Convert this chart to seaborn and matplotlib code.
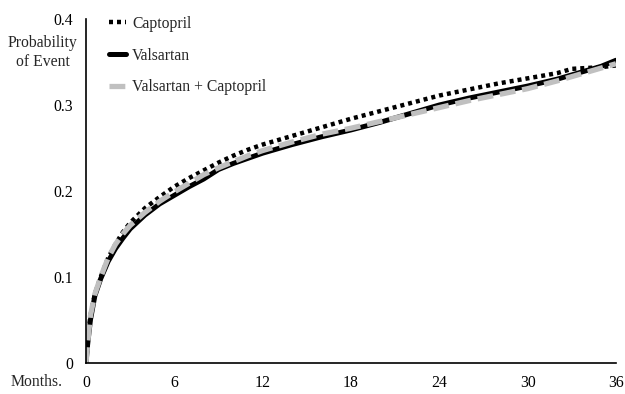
import matplotlib
matplotlib.use("Agg")
import matplotlib.pyplot as plt
import seaborn as sns
import pandas as pd

months = [0, 0.1, 0.3, 0.6, 1, 1.5, 2, 2.5, 3, 4, 5, 6, 7, 8, 9, 10, 11, 12,
          14, 16, 18, 20, 22, 24, 26, 28, 30, 32, 33, 34, 35, 36]
captopril = [0, 0.02, 0.055, 0.08, 0.1, 0.122, 0.138, 0.152, 0.163, 0.18, 0.193,
             0.205, 0.215, 0.224, 0.233, 0.241, 0.248, 0.254, 0.264, 0.274, 0.284,
             0.293, 0.302, 0.311, 0.318, 0.325, 0.331, 0.337, 0.342, 0.343, 0.344, 0.346]
valsartan = [0, 0.02, 0.05, 0.078, 0.098, 0.118, 0.133, 0.145, 0.156, 0.172, 0.185,
             0.195, 0.205, 0.214, 0.225, 0.232, 0.238, 0.244, 0.254, 0.263, 0.271,
             0.28, 0.29, 0.3, 0.308, 0.315, 0.322, 0.330, 0.335, 0.340, 0.345, 0.352]
combined = [0, 0.02, 0.055, 0.08, 0.1, 0.122, 0.138, 0.15, 0.16, 0.175, 0.188,
            0.199, 0.209, 0.219, 0.227, 0.234, 0.241, 0.247, 0.257, 0.266, 0.273,
            0.281, 0.289, 0.297, 0.305, 0.312, 0.319, 0.328, 0.333, 0.338, 0.343, 0.348]
series_names = ["Captopril", "Valsartan", "Valsartan + Captopril"]
x_ticks = [0, 6, 12, 18, 24, 30, 36]
y_ticks = [0, 0.1, 0.2, 0.3, 0.4]
y_tick_labels = ["0", "0.1", "0.2", "0.3", "0.4"]

sns.set_style("white")
plt.rcParams["font.family"] = ["Liberation Serif", "DejaVu Serif"]
FS = 11.3

fig = plt.figure(figsize=(6.25, 3.94), dpi=100)
ax = fig.add_axes([0.1376, 0.0787, 0.848, 0.8731])

sns.lineplot(x=months, y=captopril, ax=ax, color="black", linewidth=3.2,
             label=series_names[0])
sns.lineplot(x=months, y=valsartan, ax=ax, color="black", linewidth=3.6,
             label=series_names[1])
sns.lineplot(x=months, y=combined, ax=ax, color="#c0c0c0", linewidth=3.8,
             label=series_names[2])
lines = ax.get_lines()
lines[0].set_linestyle((0, (0.9, 0.9)))
lines[2].set_linestyle((0, (3, 1.3)))

ax.set_xlim(0, 36)
ax.set_ylim(0, 0.4)
ax.set_xticks(x_ticks)
ax.set_xticklabels([str(t) for t in x_ticks])
ax.set_yticks(y_ticks)
ax.set_yticklabels(y_tick_labels)
for s in ["top", "right"]:
    ax.spines[s].set_visible(False)
for s in ["left", "bottom"]:
    ax.spines[s].set_color("black")
    ax.spines[s].set_linewidth(1.2)
ax.tick_params(axis="both", which="major", direction="out", length=4, width=1.2,
               color="black", labelsize=FS, labelcolor="black", pad=5)
ax.set_xlabel("")
ax.set_ylabel("")

fig.text(0.068, 0.866, "Probability\nof Event", ha="center", va="center",
         fontsize=FS, linespacing=1.25)
fig.text(0.058, 0.03, "Months.", ha="center", va="center", fontsize=FS)

leg = ax.legend(loc="upper left", bbox_to_anchor=(0.0175, 1.05), frameon=False,
                fontsize=FS, handlelength=1.05, handletextpad=0.4,
                labelspacing=1.0)

fig.savefig("out.png", dpi=100)
